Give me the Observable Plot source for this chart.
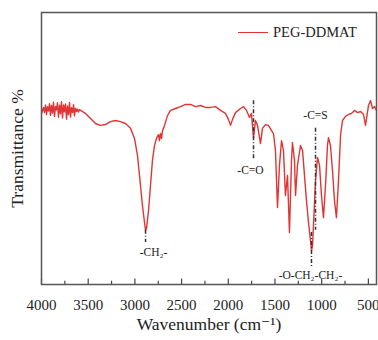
<!DOCTYPE html>
<html><head><meta charset="utf-8">
<script src="https://cdn.jsdelivr.net/npm/d3@7"></script>
<script src="https://cdn.jsdelivr.net/npm/@observablehq/plot@0.6"></script>
<style>
html,body{margin:0;padding:0;background:#fff;}
#wrap{position:relative;width:378px;height:340px;}
#wrap svg text{font-family:"Liberation Serif","DejaVu Serif",serif !important;}
#legend{position:absolute;left:238px;top:24px;font-family:"Liberation Serif","DejaVu Serif",serif;font-size:14.5px;color:#222;display:flex;align-items:center;white-space:nowrap;}
#legend span.sw{display:inline-block;width:30px;height:0;border-top:1.5px solid #e03535;margin-right:5px;}
</style></head><body>
<div id="wrap"><div id="legend"><span class="sw"></span><span>PEG-DDMAT</span></div></div>
<script>
const seriesName = "PEG-DDMAT";
const wavenumber = [4000,3989,3979,3968,3957,3946,3936,3925,3914,3904,3893,3882,3872,3861,3850,3839,3829,3818,3807,3797,
3786,3775,3764,3754,3743,3732,3722,3711,3700,3689,3679,3668,3657,3647,3636,3625,3615,3604,3593,3582,
3529,3475,3422,3368,3315,3261,3208,3154,3101,3047,3004,2972,2940,2919,2897,2886,2876,2854,2833,2812,
2790,2769,2747,2737,2726,2715,2704,2683,2651,2619,2565,2512,2458,2405,2351,2298,2244,2191,2137,2083,
2030,1998,1976,1955,1923,1869,1837,1805,1773,1752,1730,1709,1687,1655,1634,1602,1570,1537,1516,1495,
1473,1452,1430,1409,1388,1366,1345,1323,1313,1291,1280,1259,1227,1205,1184,1163,1141,1120,1109,1098,
1088,1066,1045,1023,1002,981,959,938,927,906,884,863,842,820,798,777,745,713,681,649,
617,584,552,531,520,499,477,456,434,413];
const transmittance = [62.9,64.0,65.1,63.2,66.0,62.5,65.4,63.8,66.5,62.2,65.8,63.0,67.0,61.8,65.5,64.2,66.8,61.5,65.9,62.8,
67.2,61.2,66.0,63.5,66.4,60.8,65.6,62.4,66.9,61.6,65.0,63.3,66.1,62.0,64.8,63.6,64.5,63.4,64.3,64.0,
62.9,61.0,59.2,58.5,58.8,59.9,60.3,59.9,59.2,57.4,53.7,47.4,36.4,29.0,22.8,19.9,20.6,27.2,36.4,45.6,
51.1,53.7,55.1,52.9,55.5,53.7,56.6,58.5,62.1,64.0,64.7,65.4,66.2,66.2,65.4,65.8,65.1,65.1,65.4,64.0,
62.9,60.7,58.5,60.7,63.2,64.7,65.4,64.0,61.4,62.9,54.0,60.3,58.5,51.8,57.4,58.8,58.5,56.6,55.5,49.3,
28.3,43.8,52.9,49.3,32.7,40.1,19.1,45.6,52.2,45.6,32.7,43.8,51.1,49.3,40.1,30.9,22.8,16.2,12.5,14.3,
21.7,38.2,46.7,43.8,32.7,24.6,36.4,51.1,54.0,51.1,41.9,30.9,24.6,38.2,54.8,60.3,61.8,62.5,62.9,64.0,
63.2,63.6,62.5,58.5,61.0,65.8,67.6,64.7,65.4,64.0];

const majorTicks = [4000,3500,3000,2500,2000,1500,1000,500];
const minorTicks = [3750,3250,2750,2250,1750,1250,750];

const annoLabels = ["-CH\u2082-", "-C=O", "-C=S", "-O-CH\u2082-CH\u2082-"];
const annoX = [2801, 1762, 1066, 1120];
const annoY = [11.8, 41.9, 62.1, 3.3];

const guideX = [2886, 1730, 1066, 1109];
const guideTop = [19.9, 67.6, 57.4, 19.1];
const guideBottom = [15.4, 45.6, 19.9, 5.9];

const spectrum = wavenumber.map((w, i) => ({wn: w, t: transmittance[i]}));
const annos = annoLabels.map((l, i) => ({label: l, x: annoX[i], y: annoY[i]}));
const guides = guideX.map((g, i) => ({x: g, y1: guideTop[i], y2: guideBottom[i]}));

const serif = "Liberation Serif";
const red = "#e03535";
const chart = Plot.plot({
  width: 378, height: 340,
  marginLeft: 41, marginRight: 2, marginTop: 12, marginBottom: 56,
  style: {fontFamily: serif, fontSize: "15px", color: "#222", background: "#fff"},
  x: {domain: [4000, 413], axis: null},
  y: {domain: [0, 100], axis: null},
  marks: [
    Plot.line(spectrum, {x: "wn", y: "t", stroke: red, strokeWidth: 1.4}),
    Plot.ruleX(guides, {x: "x", y1: "y1", y2: "y2", stroke: "#333", strokeWidth: 1.5, strokeDasharray: "4,2,1,2"}),
    Plot.text(annos, {x: "x", y: "y", text: "label", fontSize: 11.5, fill: "#222", fontFamily: serif}),
    Plot.ruleX(majorTicks, {y1: 0, y2: 2, stroke: "#444", strokeWidth: 1.2}),
    Plot.ruleX(minorTicks, {y1: 0, y2: 1.2, stroke: "#444", strokeWidth: 1.2}),
    Plot.axisX({ticks: majorTicks, tickSize: 0, tickPadding: 15, tickFormat: d => String(d), fontSize: 15, fontFamily: serif}),
    Plot.frame({stroke: "#555", strokeWidth: 1.5}),
    Plot.text(["Wavenumber (cm\u207B\u00B9)"], {frameAnchor: "bottom", dy: 45, fontSize: 17.5, fill: "#222", fontFamily: serif}),
    Plot.text(["Transmittance %"], {frameAnchor: "left", dx: -24, rotate: -90, textAnchor: "middle", fontSize: 17.5, fill: "#222", fontFamily: serif})
  ]
});
document.getElementById("wrap").prepend(chart);
</script>
</body></html>
